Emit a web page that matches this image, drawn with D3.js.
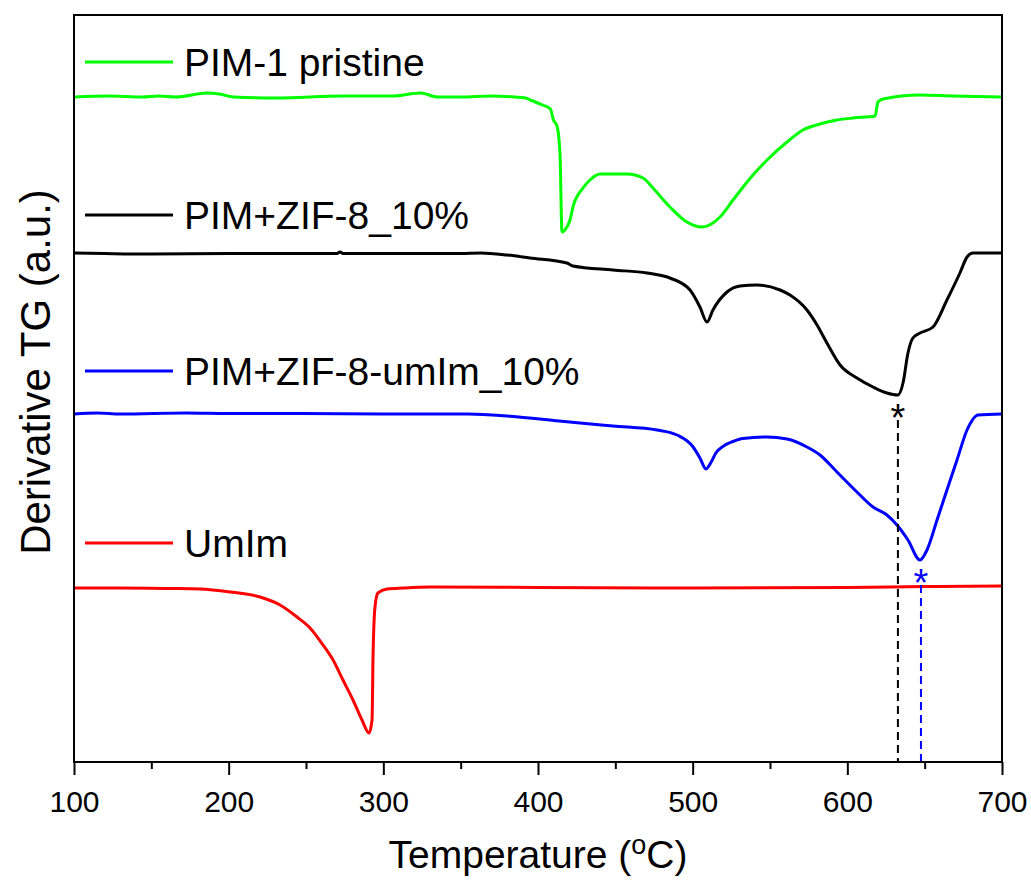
<!DOCTYPE html>
<html>
<head>
<meta charset="utf-8">
<script src="https://cdn.jsdelivr.net/npm/d3@7"></script>
<style>
  body { margin: 0; background: #fff; }
  svg text { font-family: Arial, "Liberation Sans", sans-serif; fill: #000; }
</style>
</head>
<body>
<svg id="chart"></svg>
<script>
'use strict';

// series names and colours, in legend order
const seriesNames = ['PIM-1 pristine', 'PIM+ZIF-8_10%', 'PIM+ZIF-8-umIm_10%', 'UmIm'];
const seriesColors = ['#00ff00', '#000000', '#0000ff', '#ff0000'];

// [temperature (°C), derivative TG (a.u., curves stacked with offsets)]
const pimPristine = [
  [100, 665], [123, 666], [144, 665], [155, 666], [166, 665], [186, 669], [194, 668], [203, 665],
  [231, 664], [274, 666], [306, 666], [324, 669], [335, 665], [350, 665], [370, 666], [385, 665],
  [392, 664], [395, 662], [403, 657], [408, 653], [410, 642], [412.3, 636], [414.2, 609],
  [415.5, 530], [417.4, 532], [420.7, 542], [422.6, 555], [429.1, 574], [433.6, 582], [440.1, 588],
  [457.5, 588], [467.9, 584], [474.3, 574], [485.3, 555], [496.3, 540], [506, 535], [517.7, 545],
  [526.1, 562], [539, 587], [548.1, 602], [561, 620], [571.3, 632], [582.3, 638], [593.3, 642],
  [603.7, 644], [617.9, 646], [619.8, 660], [623.1, 663], [647, 667], [668.3, 666], [700, 665]
];

const pimZif = [
  [100, 509], [120, 508.5], [150, 508], [200, 508.5], [250, 508.5], [270, 508.5], [272, 510],
  [274, 508.5], [300, 508.5], [350, 508.5], [363, 509], [380, 507], [394.8, 504], [418.7, 499],
  [422.6, 496], [448.5, 492], [470.5, 489], [485.3, 484], [498.3, 472], [504.7, 455], [509.3, 440],
  [513.1, 452], [522.2, 470], [530.6, 476], [541.6, 477], [556.5, 472], [562.9, 467], [573.9, 452],
  [580.4, 437], [586.8, 419], [595.3, 397], [606.2, 384], [616.6, 375], [625.6, 369], [632.7, 367],
  [636, 379], [639.2, 409], [642.4, 424], [647, 429], [655.4, 435], [664.4, 462], [672.8, 489],
  [677.4, 505], [681.2, 509], [700, 509]
];

const pimZifUmim = [
  [100, 348], [115, 349], [130, 348], [172.4, 349], [200, 348.5], [246, 348.5], [300, 348],
  [354.7, 348], [381.9, 345.7], [413.6, 341], [427.2, 339], [448.5, 336], [477, 332], [489.9, 327],
  [500.3, 315], [504.7, 304], [508.6, 293], [512, 300], [515, 309], [520, 316], [526, 320.5], [532.5, 323.5],
  [548.1, 325], [561, 323], [573.9, 315], [582.3, 307], [593.3, 290], [606.2, 270], [616.6, 255],
  [625.6, 247], [632.1, 237], [639.2, 222], [647, 202], [651.5, 212], [658, 242], [664.4, 272],
  [670.9, 302], [677.4, 332], [684.5, 347], [700, 348]
];

const umim = [
  [100, 174], [129.7, 174], [162, 173.5], [181.5, 173], [200.9, 170], [220.3, 165], [233.2, 157],
  [244.2, 145], [252.6, 134], [261, 117], [267.5, 102], [273.9, 82], [280.4, 62], [286.2, 42],
  [290.7, 29], [292.7, 42], [293.3, 102], [294.6, 155], [296.5, 169], [302.4, 173], [312.7, 174],
  [330.2, 175], [400, 174.5], [500, 174], [600, 174.5], [650, 175.5], [700, 176]
];

const seriesData = [pimPristine, pimZif, pimZifUmim, umim];

// decomposition peaks marked with an asterisk and a dashed drop line
const peakTemps = [632.7, 647.6];
const peakSeries = [1, 2];

const xTicks = [100, 200, 300, 400, 500, 600, 700];
const xMinorTicks = [150, 250, 350, 450, 550, 650];

// layout
const W = 1031, H = 884;
const margin = { top: 15, right: 29, bottom: 122, left: 74 };
const width = W - margin.left - margin.right,
      height = H - margin.top - margin.bottom;
const legendY = [62, 215, 371, 543];

const svg = d3.select('#chart')
   .attr('width', W)
   .attr('height', H);

const graph = svg.append('g')
   .attr('transform', `translate(${margin.left}, ${margin.top})`);

const x = d3.scaleLinear()
   .domain([100, 700])
   .range([0, width]);

const y = d3.scaleLinear()
   .domain([0, 747])
   .range([height, 0]);

// minor ticks first, major ticks with labels on top
graph.append('g')
   .attr('transform', `translate(0, ${height})`)
   .call(d3.axisBottom(x).tickValues(xMinorTicks).tickSize(7).tickFormat(''))
   .call(g => g.select('.domain').remove())
   .call(g => g.selectAll('line').attr('stroke-width', 2));

graph.append('g')
   .attr('transform', `translate(0, ${height})`)
   .call(d3.axisBottom(x).tickValues(xTicks).tickSize(13).tickPadding(16).tickFormat(d3.format('d')))
   .call(g => g.select('.domain').remove())
   .call(g => g.selectAll('line').attr('stroke-width', 2))
   .call(g => g.selectAll('text')
      .attr('font-size', 30)
      .attr('font-family', 'Arial, "Liberation Sans", sans-serif')
      .attr('fill', '#000'));

const line = d3.line()
   .x(d => x(d[0]))
   .y(d => y(d[1]))
   .curve(d3.curveMonotoneX);

graph.selectAll('path.curve')
   .data(seriesData)
  .join('path')
   .attr('class', 'curve')
   .attr('d', line)
   .attr('fill', 'none')
   .attr('stroke', (d, i) => seriesColors[i])
   .attr('stroke-width', 3)
   .attr('stroke-linejoin', 'round');

// peak markers
peakTemps.forEach((t, k) => {
  const s = peakSeries[k];
  const minV = d3.min(seriesData[s], d => d[1]);
  const py = y(minV);
  graph.append('line')
     .attr('x1', x(t)).attr('x2', x(t))
     .attr('y1', py + 25).attr('y2', height)
     .attr('stroke', seriesColors[s])
     .attr('stroke-width', 2)
     .attr('stroke-dasharray', '8,5');
  graph.append('text')
     .attr('x', x(t))
     .attr('y', py + 36)
     .attr('text-anchor', 'middle')
     .attr('font-size', 38)
     .style('fill', seriesColors[s])
     .text('*');
});

// frame
graph.append('rect')
   .attr('width', width)
   .attr('height', height)
   .attr('fill', 'none')
   .attr('stroke', '#000')
   .attr('stroke-width', 2);

// legend
const legend = svg.append('g');
seriesNames.forEach((name, i) => {
  legend.append('line')
     .attr('x1', 85).attr('x2', 173)
     .attr('y1', legendY[i]).attr('y2', legendY[i])
     .attr('stroke', seriesColors[i])
     .attr('stroke-width', 3);
  legend.append('text')
     .attr('x', 184)
     .attr('y', legendY[i] + 14)
     .attr('font-size', 39)
     .text(name);
});

// axis titles
const xTitle = svg.append('text')
   .attr('x', margin.left + width / 2)
   .attr('y', 868)
   .attr('text-anchor', 'middle')
   .attr('font-size', 39);
xTitle.append('tspan').text('Temperature (');
xTitle.append('tspan').attr('font-size', 27).attr('dy', -14).text('o');
xTitle.append('tspan').attr('dy', 14).text('C)');

svg.append('text')
   .attr('transform', `translate(50, 372) rotate(-90)`)
   .attr('text-anchor', 'middle')
   .attr('font-size', 42)
   .text('Derivative TG (a.u.)');
</script>
</body>
</html>
